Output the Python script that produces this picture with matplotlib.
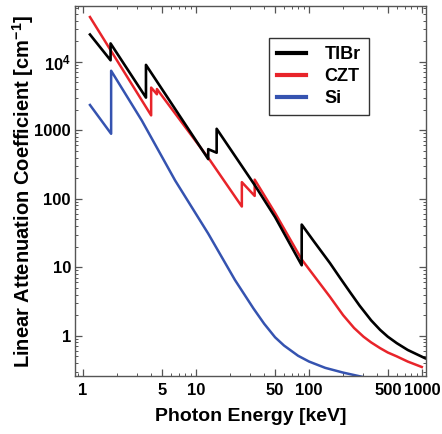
import numpy as np
import matplotlib
matplotlib.use('Agg')
import matplotlib.pyplot as plt
from matplotlib.ticker import FixedLocator, LogLocator, NullFormatter

# Attenuation curves (energy in keV, mu in cm^-1)
tlbr_energy = [1.15, 1.75, 1.75, 3.6, 3.6, 12.8, 12.8, 15.2, 15.2, 33.3, 50,
               86, 86, 110, 153, 188, 231, 280, 354, 425, 497, 597, 747, 1063]
tlbr_mu = [25000, 10500, 18500, 3000, 9000, 380, 530, 470, 1050, 155, 54,
           10.7, 42, 24, 11.5, 7.0, 4.3, 2.75, 1.68, 1.22, 0.97, 0.78, 0.62, 0.47]

czt_energy = [1.15, 4.0, 4.0, 4.5, 4.5, 13.3, 25.4, 25.4, 33.0, 33.0, 50,
              86, 153, 200, 250, 303, 354, 425, 497, 597, 747, 994]
czt_mu = [45000, 1650, 4200, 3350, 4000, 363, 77, 175, 110, 190, 62,
          13, 3.7, 2.0, 1.3, 0.97, 0.80, 0.66, 0.57, 0.50, 0.42, 0.35]

si_energy = [1.15, 1.77, 1.77, 3.31, 6.52, 12.8, 22.1, 32.2, 40, 50, 60,
             80, 100, 139, 200, 300]
si_mu = [2340, 888, 7390, 1384, 185, 31, 6.5, 2.5, 1.5, 0.95, 0.72,
         0.51, 0.42, 0.34, 0.29, 0.25]

xtick_vals = [1, 5, 10, 50, 100, 500, 1000]
xtick_labels = ['1', '5', '10', '50', '100', '500', '1000']
ytick_vals = [1, 10, 100, 1000, 10000]
ytick_labels = ['1', '10', '100', '1000', r'$\mathbf{10^4}$']

plt.rcParams['font.family'] = ['Liberation Sans', 'DejaVu Sans']
plt.rcParams['font.weight'] = 'bold'
plt.rcParams['mathtext.fontset'] = 'custom'
plt.rcParams['mathtext.rm'] = 'Liberation Sans:bold'
plt.rcParams['mathtext.bf'] = 'Liberation Sans:bold'

fig = plt.figure(figsize=(4.42, 4.34), dpi=100)
ax = fig.add_axes([0.170, 0.134, 0.794, 0.852])

l_si, = ax.plot(si_energy, si_mu, color='#3553b0', lw=1.8, label='Si')
l_czt, = ax.plot(czt_energy, czt_mu, color='#e8242a', lw=1.8, label='CZT')
l_tlbr, = ax.plot(tlbr_energy, tlbr_mu, color='black', lw=1.9, label='TlBr')

ax.set_xscale('log')
ax.set_yscale('log')
ax.set_xlim(0.85, 1085)
ax.set_ylim(0.26, 65000)

ax.xaxis.set_major_locator(FixedLocator(xtick_vals))
ax.set_xticklabels(xtick_labels)
ax.xaxis.set_minor_locator(LogLocator(base=10, subs=np.arange(2, 10)))
ax.xaxis.set_minor_formatter(NullFormatter())
ax.yaxis.set_major_locator(FixedLocator(ytick_vals))
ax.set_yticklabels(ytick_labels)
ax.yaxis.set_minor_locator(LogLocator(base=10, subs=np.arange(2, 10)))
ax.yaxis.set_minor_formatter(NullFormatter())

ax.tick_params(which='both', direction='in', top=True, right=True,
               color='#555555', labelsize=12)
ax.tick_params(which='major', length=5, width=0.9)
ax.tick_params(which='minor', length=2.5, width=0.7)
ax.tick_params(axis='x', which='major', pad=5.5)
ax.tick_params(axis='y', which='major', pad=3)
for s in ax.spines.values():
    s.set_color('#555555')
    s.set_linewidth(1.0)

ax.set_xlabel('Photon Energy [keV]', fontsize=14, fontweight='bold', labelpad=7)
ax.set_ylabel(r'Linear Attenuation Coefficient [cm$^{\mathbf{-1}}$]',
              fontsize=14.5, fontweight='bold', labelpad=-1.5)

leg = ax.legend(handles=[l_tlbr, l_czt, l_si], loc='upper left',
                bbox_to_anchor=(0.553, 0.914), fontsize=13, frameon=True,
                fancybox=False, edgecolor='black', handlelength=1.6,
                handletextpad=1.0, borderpad=0.45, labelspacing=0.28,
                borderaxespad=0)
leg.get_frame().set_linewidth(1.0)
for h in leg.get_lines():
    h.set_linewidth(3)

fig.savefig('out.png', dpi=100, facecolor='white')
